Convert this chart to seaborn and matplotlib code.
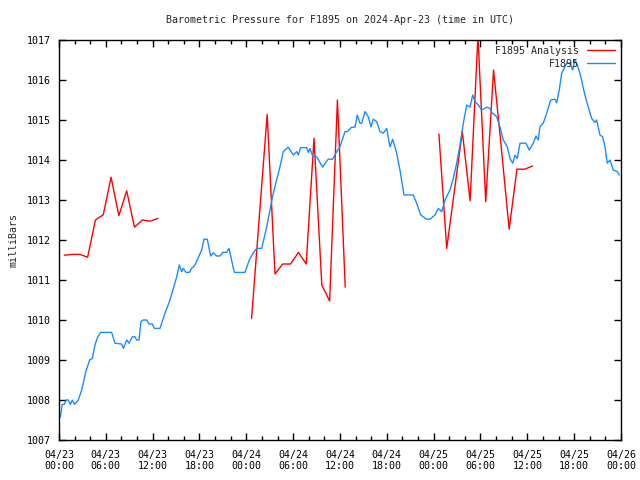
import pandas as pd
import numpy as np
import matplotlib
matplotlib.use("Agg")
import matplotlib.pyplot as plt
import matplotlib.dates as mdates
import seaborn as sns

# hours since 2024-04-23 00:00 UTC
f1895_h = [0.17, 0.42, 0.68, 0.94, 1.19, 1.45, 1.70, 1.96, 2.47, 2.91, 3.42, 3.93, 4.27, 4.61,
           4.96, 5.34, 6.75, 7.17, 8.03, 8.24, 8.67, 8.97, 9.39, 9.74, 9.95, 10.25, 10.50, 10.80,
           11.24, 11.53, 11.95, 12.21, 12.94, 13.58, 14.22, 15.08, 15.41, 15.72, 15.92, 16.27,
           16.69, 17.00, 17.42, 18.28, 18.58, 19.00, 19.43, 19.77, 20.20, 20.63, 20.97, 21.48,
           21.78, 22.46, 23.83, 24.38, 24.89, 25.33, 25.97, 26.61, 27.45, 28.31, 28.73, 29.37,
           30.02, 30.45, 30.66, 30.96, 31.73, 31.94, 32.15, 32.50, 33.01, 33.78, 34.08, 34.50,
           35.06, 35.58, 36.00, 36.64, 36.93, 37.50, 37.92, 38.21, 38.56, 38.78, 39.20, 39.62,
           39.97, 40.26, 40.70, 41.12, 41.55, 41.98, 42.40, 42.75, 43.26, 43.68, 44.20, 45.39,
           45.82, 46.34, 47.10, 47.53, 48.17, 48.59, 49.03, 49.45, 50.09, 50.51, 50.95, 51.37,
           51.80, 52.23, 52.65, 53.00, 53.29, 53.72, 54.15, 54.79, 55.21, 55.43, 56.07, 56.49,
           56.92, 57.43, 57.78, 58.12, 58.42, 58.71, 59.06, 59.82, 60.25, 60.76, 61.11, 61.40,
           61.62, 62.04, 62.48, 62.99, 63.54, 63.76, 64.09, 64.40, 65.04, 65.46, 65.81, 66.10,
           66.32, 66.74, 67.17, 67.60, 68.24, 68.67, 68.88, 69.30, 69.65, 69.95, 70.24, 70.59,
           71.01, 71.52, 71.78]
f1895_mb = [1007.58, 1007.89, 1007.89, 1008.0, 1008.0, 1007.89, 1008.0, 1007.89, 1008.0, 1008.25,
            1008.7, 1009.0, 1009.04, 1009.375, 1009.58, 1009.69, 1009.69, 1009.42, 1009.4, 1009.29,
            1009.5, 1009.42, 1009.58, 1009.58, 1009.5, 1009.5, 1009.96, 1010.0, 1010.0, 1009.9,
            1009.9, 1009.79, 1009.79, 1010.17, 1010.5, 1011.08, 1011.375, 1011.21, 1011.29, 1011.19,
            1011.19, 1011.29, 1011.375, 1011.75, 1012.02, 1012.02, 1011.6, 1011.68, 1011.6, 1011.6,
            1011.69, 1011.69, 1011.79, 1011.19, 1011.19, 1011.5, 1011.68, 1011.79, 1011.79, 1012.33,
            1013.17, 1013.83, 1014.21, 1014.32, 1014.125, 1014.21, 1014.125, 1014.31, 1014.31, 1014.19,
            1014.29, 1014.1, 1014.08, 1013.82, 1013.92, 1014.02, 1014.02, 1014.21, 1014.33, 1014.71,
            1014.71, 1014.82, 1014.82, 1015.125, 1014.92, 1014.92, 1015.21, 1015.08, 1014.83, 1015.02,
            1014.96, 1014.71, 1014.67, 1014.79, 1014.33, 1014.52, 1014.17, 1013.75, 1013.125, 1013.125,
            1012.92, 1012.625, 1012.52, 1012.52, 1012.625, 1012.79, 1012.71, 1013.0, 1013.25, 1013.54,
            1013.92, 1014.375, 1014.92, 1015.375, 1015.32, 1015.625, 1015.46, 1015.375, 1015.25, 1015.32,
            1015.29, 1015.19, 1015.08, 1014.83, 1014.5, 1014.33, 1014.04, 1013.92, 1014.12, 1014.04,
            1014.42, 1014.42, 1014.25, 1014.42, 1014.6, 1014.5, 1014.83, 1014.92, 1015.17, 1015.5,
            1015.52, 1015.43, 1015.75, 1016.17, 1016.42, 1016.42, 1016.25, 1016.5, 1016.42, 1016.17,
            1015.79, 1015.46, 1015.04, 1014.94, 1015.0, 1014.625, 1014.58, 1014.33, 1013.92, 1014.0,
            1013.75, 1013.71, 1013.625]

# analysis runs, hourly at :40, three separate pieces
anal_h = [0.67, 1.67, 2.67, 3.67, 4.67, 5.67, 6.67, 7.67, 8.67, 9.67, 10.67, 11.67, 12.67,
          24.67, 25.67, 26.67, 27.67, 28.67, 29.67, 30.67, 31.67, 32.67, 33.67, 34.67, 35.67, 36.67,
          48.67, 49.67, 50.67, 51.67, 52.67, 53.67, 54.67, 55.67, 56.67, 57.67, 58.67, 59.67, 60.67]
anal_mb = [1011.62, 1011.64, 1011.64, 1011.57, 1012.5, 1012.63, 1013.57, 1012.61, 1013.23, 1012.32,
           1012.5, 1012.47, 1012.54,
           1010.04, 1012.6, 1015.14, 1011.15, 1011.4, 1011.4, 1011.69, 1011.4, 1014.54, 1010.875,
           1010.475, 1015.5, 1010.82,
           1014.65, 1011.79, 1013.25, 1014.71, 1012.98, 1017.1, 1012.96, 1016.25, 1014.3, 1012.27,
           1013.77, 1013.77, 1013.85]
anal_seg = [0] * 13 + [1] * 13 + [2] * 13

start = pd.Timestamp("2024-04-23 00:00")
df_obs = pd.DataFrame({"time": start + pd.to_timedelta(f1895_h, unit="h"), "mb": f1895_mb})
df_anal = pd.DataFrame({"time": start + pd.to_timedelta(anal_h, unit="h"), "mb": anal_mb, "seg": anal_seg})

sns.set_style("ticks")
plt.rcParams["font.family"] = ["DejaVu Sans Mono"]
plt.rcParams["font.size"] = 7.2

fig = plt.figure(figsize=(6.4, 4.8), dpi=100)
ax = fig.add_axes([59 / 640, 40 / 480, 562 / 640, 400 / 480])

red = "#ff0000"
blue = "#1a8cff"
sns.lineplot(data=df_anal, x="time", y="mb", units="seg", estimator=None,
             color=red, linewidth=1, ax=ax, legend=False)
sns.lineplot(data=df_obs, x="time", y="mb", color=blue, linewidth=1, ax=ax, legend=False)

ax.set_xlim(start, start + pd.Timedelta(hours=72))
ax.set_ylim(1007, 1017)
ax.set_yticks(np.arange(1007, 1018, 1))
ax.xaxis.set_major_locator(mdates.HourLocator(byhour=range(0, 24, 6)))
ax.xaxis.set_minor_locator(mdates.HourLocator(byhour=range(0, 24, 2)))
ax.xaxis.set_major_formatter(mdates.DateFormatter("%m/%d\n%H:%M"))

ax.tick_params(which="both", direction="in", top=True, right=True, colors="black",
               labelsize=7.2, width=1)
ax.tick_params(which="major", length=5)
ax.tick_params(which="minor", length=3)
ax.tick_params(axis="x", which="major", pad=7)
ax.tick_params(axis="y", which="major", pad=6)
for s in ax.spines.values():
    s.set_color("black")
    s.set_linewidth(1)

ax.set_xlabel("")
ax.set_ylabel("milliBars", fontsize=7.2, labelpad=6)
ax.set_title("Barometric Pressure for F1895 on 2024-Apr-23 (time in UTC)", fontsize=7.2, pad=12)

handles = [plt.Line2D([], [], color=red, lw=1), plt.Line2D([], [], color=blue, lw=1)]
ax.legend(handles, ["F1895 Analysis", "F1895"], loc="upper right", frameon=False,
          markerfirst=False, handlelength=2.8, fontsize=7.2, labelspacing=0.3,
          borderaxespad=0.5, borderpad=0.1, handletextpad=0.8)

fig.savefig("out.png", dpi=100)
